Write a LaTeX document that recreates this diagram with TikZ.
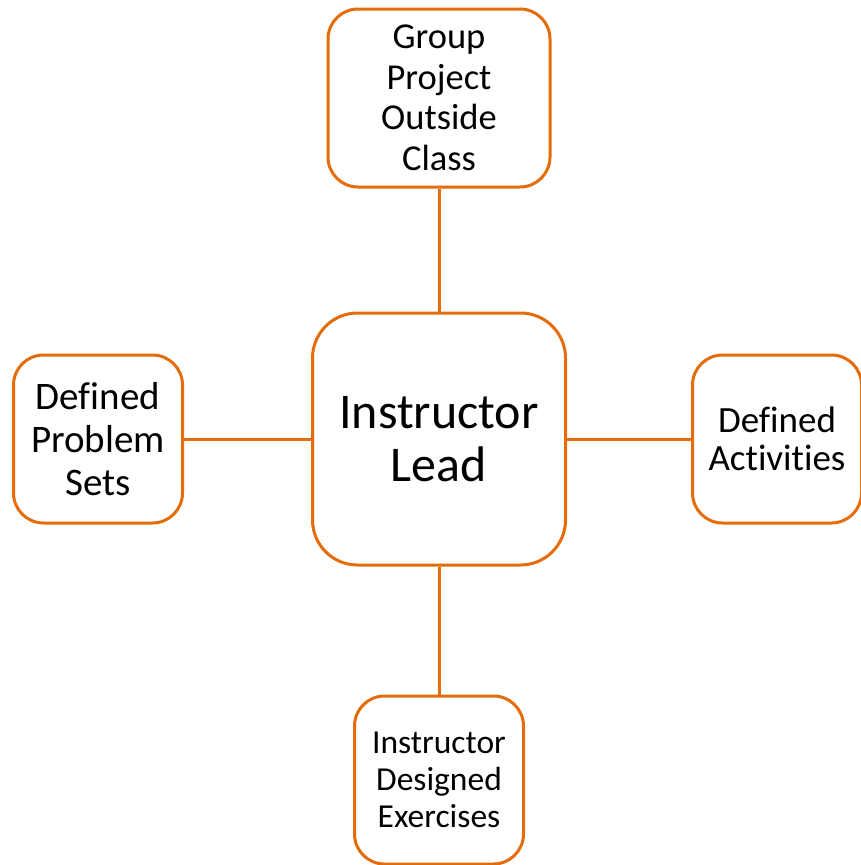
\documentclass[tikz,border=0pt]{standalone}
\usepackage{fontspec}
\setmainfont{Carlito}[Ligatures=NoCommon]
\usepackage{xcolor}
\usetikzlibrary{positioning}
\definecolor{c2}{RGB}{228,108,10}
\tikzset{
  hub/.style={draw=c2, line width=3pt, rounded corners=45pt, fill=white, minimum width=253pt, minimum height=252pt, inner sep=0pt, align=center, font=\fontsize{50}{53}\selectfont},
  leaf/.style={draw=c2, line width=3pt, rounded corners=30pt, fill=white, minimum width=169pt, minimum height=168pt, inner sep=0pt, align=center},
  link/.style={draw=c2, line width=3pt}
}
\begin{document}
\begin{tikzpicture}[x=1pt, y=-1pt]
    \useasboundingbox (0,0) rectangle (860,865);
    % Nodes
    \node[hub] (lead) at (439,439) {Instructor\\Lead};
    \node[leaf, minimum width=222pt, minimum height=178pt, font=\fontsize{36.5}{40.5}\selectfont] (group) at (439,98) {Group\\Project\\Outside\\Class};
    \node[leaf, font=\fontsize{39}{43}\selectfont] (sets) at (98,439) {Defined\\Problem\\Sets};
    \node[leaf, font=\fontsize{37}{38}\selectfont] (acts) at (777,439) {Defined\\Activities};
    \node[leaf, font=\fontsize{33.5}{37}\selectfont] (exer) at (439,780) {Instructor\\Designed\\Exercises};

    % Edges
    \draw[link] (lead) -- (group);
    \draw[link] (lead) -- (sets);
    \draw[link] (lead) -- (acts);
    \draw[link] (lead) -- (exer);
\end{tikzpicture}
\end{document}
